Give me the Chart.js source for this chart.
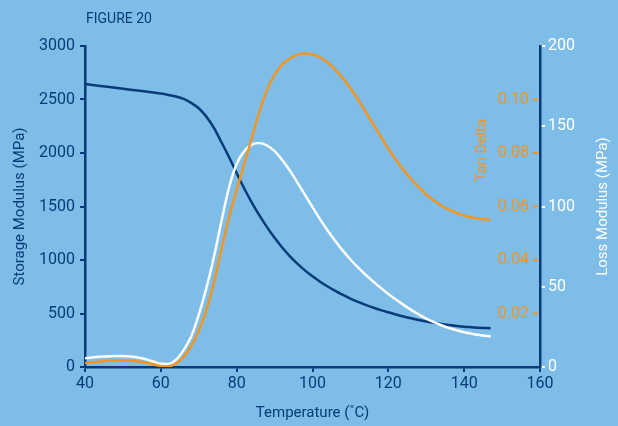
<!DOCTYPE html>
<html>
<head>
<meta charset="utf-8">
<script src="https://cdn.jsdelivr.net/npm/chart.js@4.4.1/dist/chart.umd.min.js"></script>
<style>
    html, body { margin: 0; padding: 0; background: #7dbde8; }
    #chartBox { width: 618px; height: 426px; }
</style>
</head>
<body>
<div id="chartBox"><canvas id="dmaChart"></canvas></div>
<script>
// DMA sweep, sampled at these temperatures (°C)
const temperatures = [40, 44, 48, 52, 55, 58, 60, 62, 64, 66, 68, 70, 72, 74, 76, 78, 80, 82, 84, 86, 88, 90,
    92, 94, 96, 98, 100, 102, 104, 106, 108, 110, 112, 114, 116, 118, 120, 122, 124, 126, 128, 130, 132, 134,
    136, 138, 140, 142, 144, 147];

// Storage modulus (MPa), left axis
const storageModulus = [2645, 2627, 2609, 2592, 2580, 2566, 2556, 2543, 2528, 2505, 2468, 2418, 2340, 2235,
    2100, 1960, 1812, 1668, 1537, 1417, 1307, 1207, 1117, 1037, 966, 903, 847, 797, 752, 711, 674, 640, 609,
    581, 556, 532, 511, 491, 472, 455, 440, 426, 413, 402, 392, 384, 377, 372, 367, 362];

// Tan delta, inner right axis
const tanDelta = [0.0015, 0.0021, 0.0024, 0.0023, 0.0019, 0.0010, 0.0004, 0.0003, 0.0013, 0.0038, 0.0078,
    0.0135, 0.0212, 0.0315, 0.0440, 0.0560, 0.0662, 0.0758, 0.0858, 0.0955, 0.1035, 0.1092, 0.1130, 0.1153,
    0.1167, 0.1172, 0.1168, 0.1157, 0.1138, 0.1112, 0.1080, 0.1042, 0.1000, 0.0955, 0.0908, 0.0862, 0.0816,
    0.0775, 0.0737, 0.0703, 0.0672, 0.0645, 0.0622, 0.0603, 0.0588, 0.0576, 0.0566, 0.0559, 0.0554, 0.0550];

// Loss modulus (MPa), outer right axis
const lossModulus = [5.5, 6.4, 6.9, 6.6, 5.5, 3.4, 2.0, 1.8, 4.5, 10.5, 19, 32.5, 49, 68.5, 91, 112, 126.5,
    134.5, 138.5, 139.5, 138, 134.5, 129, 122.5, 115, 107.3, 99.6, 92, 85, 78.5, 72.5, 67, 62, 57.5, 53.3,
    49.3, 45.5, 42, 38.7, 35.6, 32.8, 30.2, 28, 26, 24.3, 22.9, 21.7, 20.7, 19.9, 19];

const tempRange = [40, 160];
const storageRange = [0, 3000];
const tanRange = [0, 0.12];
const lossRange = [0, 200];

const NAVY = '#0a3b78';
const ORANGE = '#f4951f';
const WHITE = '#ffffff';
const FONT = 'Roboto, "Liberation Sans", sans-serif';

function toPoints(values) {
    return temperatures.map((t, i) => ({ x: t, y: values[i] }));
}

function drawVertical(ctx, text, x, y, color) {
    ctx.save();
    ctx.translate(x, y);
    ctx.rotate(-Math.PI / 2);
    ctx.fillStyle = color;
    ctx.textAlign = 'center';
    ctx.textBaseline = 'middle';
    ctx.fillText(text, 0, 0);
    ctx.restore();
}

// figure caption, right-hand axis titles and the inward tan delta ticks
const extraText = {
    id: 'extraText',
    afterDraw(chart) {
        const { ctx, chartArea, scales } = chart;
        const tan = scales.yTan;
        ctx.save();
        ctx.font = '14px ' + FONT;
        ctx.fillStyle = NAVY;
        ctx.textAlign = 'left';
        ctx.textBaseline = 'alphabetic';
        ctx.fillText('FIGURE 20', chartArea.left + 1, 23);

        ctx.strokeStyle = ORANGE;
        ctx.lineWidth = 2;
        tan.ticks.forEach(t => {
            if (!t.label) return;
            const y = tan.getPixelForValue(t.value);
            ctx.beginPath();
            ctx.moveTo(chartArea.right - 7, y);
            ctx.lineTo(chartArea.right - 2, y);
            ctx.stroke();
        });

        ctx.font = '15px ' + FONT;
        drawVertical(ctx, 'Tan Delta', chartArea.right - 58, tan.getPixelForValue(0.081), ORANGE);
        drawVertical(ctx, 'Loss Modulus (MPa)', 603, (chartArea.top + chartArea.bottom) / 2, WHITE);
        ctx.restore();
    }
};

const ctx = document.getElementById('dmaChart').getContext('2d');
new Chart(ctx, {
    type: 'line',
    data: {
        datasets: [
            {
                label: 'Tan Delta',
                data: toPoints(tanDelta),
                yAxisID: 'yTan',
                borderColor: ORANGE,
                order: 0
            },
            {
                label: 'Loss Modulus',
                data: toPoints(lossModulus),
                yAxisID: 'yLoss',
                borderColor: WHITE,
                order: 1
            },
            {
                label: 'Storage Modulus',
                data: toPoints(storageModulus),
                yAxisID: 'y',
                borderColor: NAVY,
                order: 2
            }
        ]
    },
    plugins: [extraText],
    options: {
        responsive: true,
        maintainAspectRatio: false,
        animation: false,
        layout: { padding: { top: 46, right: 0, left: 0, bottom: 0 } },
        elements: {
            point: { radius: 0 },
            line: { borderWidth: 2.5, cubicInterpolationMode: 'monotone', fill: false }
        },
        plugins: {
            legend: { display: false },
            tooltip: { enabled: false }
        },
        scales: {
            x: {
                type: 'linear',
                min: tempRange[0],
                max: tempRange[1],
                afterFit: s => { s.height = 59; },
                ticks: { stepSize: 20, color: NAVY, font: { family: FONT, size: 16 }, padding: 2 },
                grid: { drawOnChartArea: false, color: NAVY, tickLength: 5, lineWidth: 2 },
                border: { color: NAVY, width: 2.5 },
                title: {
                    display: true,
                    text: 'Temperature (˚C)',
                    color: NAVY,
                    font: { family: FONT, size: 15 },
                    padding: { top: 0, bottom: 4 }
                }
            },
            y: {
                position: 'left',
                min: storageRange[0],
                max: storageRange[1],
                afterFit: s => { s.width = 85; },
                ticks: {
                    stepSize: 500,
                    color: NAVY,
                    font: { family: FONT, size: 16 },
                    padding: 5,
                    callback: v => String(v)
                },
                grid: { drawOnChartArea: false, color: NAVY, tickLength: 5, lineWidth: 2 },
                border: { color: NAVY, width: 2.5 },
                title: {
                    display: true,
                    text: 'Storage Modulus (MPa)',
                    color: NAVY,
                    font: { family: FONT, size: 15 },
                    padding: { top: 11, bottom: 0 }
                }
            },
            yTan: {
                position: 'right',
                weight: 0,
                min: tanRange[0],
                max: tanRange[1],
                afterFit: s => { s.width = 0; },
                ticks: {
                    stepSize: 0.02,
                    mirror: true,
                    padding: -11,
                    color: ORANGE,
                    font: { family: FONT, size: 16 },
                    callback: v => (v > 0.001 && v < 0.11) ? v.toFixed(2) : ''
                },
                grid: { display: false },
                border: { display: false }
            },
            yLoss: {
                position: 'right',
                weight: 1,
                min: lossRange[0],
                max: lossRange[1],
                afterFit: s => { s.width = 78; },
                ticks: { stepSize: 50, color: WHITE, font: { family: FONT, size: 16 }, padding: 3 },
                grid: { drawOnChartArea: false, color: WHITE, tickLength: 5, lineWidth: 2 },
                border: { color: NAVY, width: 2.5 }
            }
        }
    }
});
</script>
</body>
</html>
